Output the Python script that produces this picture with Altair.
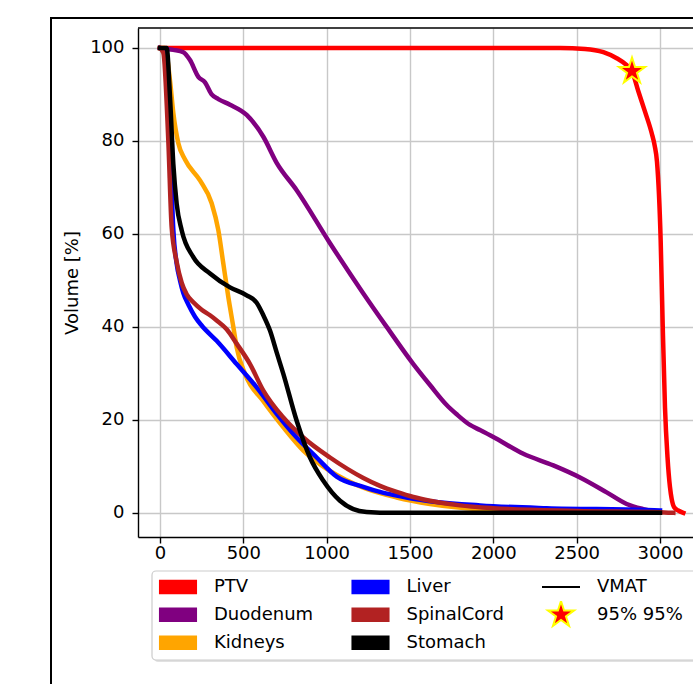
import math
import altair as alt
import pandas as pd

# Cumulative dose-volume histograms (dose in cGy, volume in %)
ptv_dose = [0, 2400, 2550, 2660, 2740, 2800, 2832, 2870, 2910, 2950, 2968, 2982, 3004, 3016, 3030, 3045, 3060, 3070, 3085, 3110, 3140]
ptv_vol = [100, 100, 99.8, 99.1, 97.8, 96.3, 95, 90.7, 86.3, 81.7, 79, 75.5, 58.6, 40.7, 22.6, 12, 5.5, 3, 1.2, 0.5, 0]

duodenum_dose = [0, 80, 140, 180, 230, 270, 310, 350, 420, 520, 620, 700, 820, 1020, 1220, 1360, 1520, 1620, 1720, 1780, 1860, 1920, 2000, 2180, 2360, 2520, 2680, 2800, 2900, 2980]
duodenum_vol = [100, 99.6, 99.1, 97.4, 93.8, 92.6, 90.0, 89.0, 87.8, 85.6, 80.9, 75.3, 69.4, 58, 47.2, 40, 32, 27.5, 23.2, 21.2, 18.9, 17.8, 16.3, 12.7, 10.2, 7.6, 4.4, 1.9, 0.8, 0.2]

kidneys_dose = [0, 30, 60, 80, 110, 150, 240, 310, 350, 380, 410, 440, 460, 510, 620, 740, 860, 1020, 1220, 1420, 1620, 2000, 2500, 3000]
kidneys_vol = [100, 100, 93, 86, 79.5, 76, 71.5, 66.6, 60.8, 53.6, 46.4, 40, 35.6, 29.9, 24, 18.4, 13.4, 9, 5.4, 3.3, 1.9, 0.6, 0.15, 0]

liver_dose = [0, 30, 60, 80, 100, 120, 140, 170, 210, 250, 340, 460, 580, 700, 820, 940, 1060, 1220, 1320, 1420, 1520, 1620, 1920, 2320, 2920, 3000]
liver_vol = [100, 99, 80, 60.8, 53.6, 50, 47.3, 44.8, 42.2, 40.3, 37, 32, 27, 21.3, 16.2, 11.9, 7.8, 5.6, 4.5, 3.7, 3.0, 2.5, 1.6, 1.0, 0.6, 0.5]

spinal_dose = [0, 20, 50, 70, 100, 130, 160, 200, 250, 300, 340, 400, 460, 540, 620, 740, 860, 1020, 1220, 1320, 1420, 1520, 1620, 1800, 2000, 2500, 3000, 3080]
spinal_vol = [100, 99, 80, 61.4, 54, 49.5, 47, 45.3, 43.7, 42.5, 41.4, 39.5, 36.4, 32, 26.3, 20.5, 16.2, 11.9, 7.5, 5.8, 4.5, 3.4, 2.6, 1.6, 1.0, 0.4, 0.1, 0]

stomach_dose = [0, 40, 60, 80, 100, 130, 200, 300, 420, 520, 580, 620, 660, 700, 740, 820, 900, 980, 1080, 1160, 1240, 1400, 3000]
stomach_vol = [100, 100, 89.5, 75, 66.5, 60.8, 55, 51.5, 48.5, 46.8, 45.2, 42.5, 39.2, 34.5, 29.9, 19.8, 11.9, 6.9, 2.6, 0.8, 0.2, 0, 0]

structures = ["PTV", "Duodenum", "Kidneys", "Liver", "SpinalCord", "Stomach"]
colors = ["#ff0000", "#800080", "#ffa500", "#0000ff", "#b22222", "#000000"]
series = [
    (ptv_dose, ptv_vol),
    (duodenum_dose, duodenum_vol),
    (kidneys_dose, kidneys_vol),
    (liver_dose, liver_vol),
    (spinal_dose, spinal_vol),
    (stomach_dose, stomach_vol),
]

# D95 marker on the PTV curve
marker_dose = [2832]
marker_vol = [95]
marker_label = "95% 95%"
plan_label = "VMAT"

FONT = "DejaVu Sans"
W, H = 555, 509


def star_path(r_out, ratio=0.381966):
    pts = []
    for k in range(10):
        r = r_out if k % 2 == 0 else r_out * ratio
        a = math.pi / 2 + k * math.pi / 5
        pts.append((r * math.cos(a), -r * math.sin(a)))
    return "M" + "L".join(f"{x:.4f},{y:.4f}" for x, y in pts) + "Z"


STAR = star_path(0.72)
PATCH = "M-0.95,-0.33H0.95V0.33H-0.95Z"
LINE = "M-1,0H1"
SYMBOL_SIZE = 1444

x_enc = alt.X(
    "dose:Q",
    scale=alt.Scale(domain=[-132, 3198], nice=False, zero=False),
    axis=alt.Axis(
        title=None,
        values=[0, 500, 1000, 1500, 2000, 2500, 3000],
        format="d",
        labelFontSize=18,
        labelFont=FONT,
        labelColor="#000000",
        labelPadding=1,
        labelFlush=False,
        tickSize=6,
        tickWidth=1.4,
        tickColor="#000000",
        domainColor="#000000",
        domainWidth=1.4,
        grid=True,
        gridColor="#c8c8c8",
        gridWidth=1.4,
    ),
)
y_enc = alt.Y(
    "volume:Q",
    scale=alt.Scale(domain=[-5.2, 104.3], nice=False, zero=False),
    axis=alt.Axis(
        title="Volume [%]",
        values=[0, 20, 40, 60, 80, 100],
        labelFontSize=18,
        labelFont=FONT,
        labelColor="#000000",
        labelPadding=8,
        tickSize=6,
        tickWidth=1.4,
        tickColor="#000000",
        domainColor="#000000",
        domainWidth=1.4,
        grid=True,
        gridColor="#c8c8c8",
        gridWidth=1.4,
        titleFont=FONT,
        titleFontSize=18,
        titleFontWeight="normal",
        titleColor="#000000",
        titleAngle=270,
        titleAlign="center",
        titleBaseline="middle",
        titleX=-66,
        titleY=254.5,
    ),
)

one_row = pd.DataFrame({"k": [0]})

# legend frame with a soft drop shadow
legend_shadow = alt.Chart(one_row).mark_rect(
    fill="#c4c4c4", opacity=0.5, cornerRadius=4
).encode(x=alt.value(16), x2=alt.value(640), y=alt.value(545), y2=alt.value(634))
legend_box = alt.Chart(one_row).mark_rect(
    fill="#ffffff", stroke="#cccccc", strokeWidth=1.2, cornerRadius=4
).encode(x=alt.value(14), x2=alt.value(640), y=alt.value(543), y2=alt.value(632))

layers = [legend_shadow, legend_box]

for name, color, (d, v) in zip(structures, colors, series):
    df = pd.DataFrame({"dose": d, "volume": v, "structure": name})
    layers.append(
        alt.Chart(df)
        .mark_line(color=color, strokeWidth=4.5, strokeJoin="round", strokeCap="square",
                   interpolate="monotone", clip=True)
        .encode(x=x_enc, y=y_enc)
    )

marker_df = pd.DataFrame({"dose": marker_dose, "volume": marker_vol})
layers.append(
    alt.Chart(marker_df)
    .mark_point(shape=STAR, size=SYMBOL_SIZE, filled=True, fill="#ff0000",
                stroke="#ffff00", strokeWidth=2, opacity=1)
    .encode(x=x_enc, y=y_enc)
)

# legend entries fill the three columns top to bottom
entries = structures + [plan_label, marker_label]
fill_range = colors + ["transparent", "#ff0000"]
stroke_range = colors + ["#000000", "#ffff00"]
shape_range = [PATCH] * len(structures) + [LINE, STAR]

legend = alt.Legend(
    title=None,
    orient="none",
    legendX=20,
    legendY=545,
    columns=3,
    columnPadding=36.5,
    rowPadding=0,
    clipHeight=27.5,
    gridAlign="each",
    padding=0,
    labelFont=FONT,
    labelFontSize=18,
    labelColor="#000000",
    labelOffset=16,
    labelLimit=400,
    symbolSize=SYMBOL_SIZE,
    symbolStrokeWidth=2,
    symbolOpacity=1,
)

legend_df = pd.DataFrame({"entry": entries, "dose": [-5000] * len(entries), "volume": [-500] * len(entries)})
layers.append(
    alt.Chart(legend_df)
    .mark_point(filled=True, size=SYMBOL_SIZE, strokeWidth=2, opacity=1, clip=True)
    .encode(
        x=x_enc,
        y=y_enc,
        fill=alt.Fill("entry:N", scale=alt.Scale(domain=entries, range=fill_range), legend=legend),
        stroke=alt.Stroke("entry:N", scale=alt.Scale(domain=entries, range=stroke_range), legend=legend),
        shape=alt.Shape("entry:N", scale=alt.Scale(domain=entries, range=shape_range), legend=legend),
    )
)

# axes frame top edge and the outer figure border
layers.append(
    alt.Chart(one_row).mark_rule(color="#000000", strokeWidth=1.4)
    .encode(x=alt.value(0), x2=alt.value(640), y=alt.value(0))
)
layers.append(
    alt.Chart(one_row).mark_rule(color="#000000", strokeWidth=2)
    .encode(x=alt.value(-87), y=alt.value(-10), y2=alt.value(700))
)
layers.append(
    alt.Chart(one_row).mark_rule(color="#000000", strokeWidth=2)
    .encode(x=alt.value(-88), x2=alt.value(640), y=alt.value(-10))
)

chart = (
    alt.layer(*layers)
    .properties(
        width=W,
        height=H,
        autosize=alt.AutoSizeParams(type="none"),
        padding={"left": 138, "top": 28, "right": 0, "bottom": 147},
        background="#ffffff",
    )
    .configure_view(stroke="transparent")
)

chart.save("out.html", embed_options={"renderer": "svg", "actions": False})
